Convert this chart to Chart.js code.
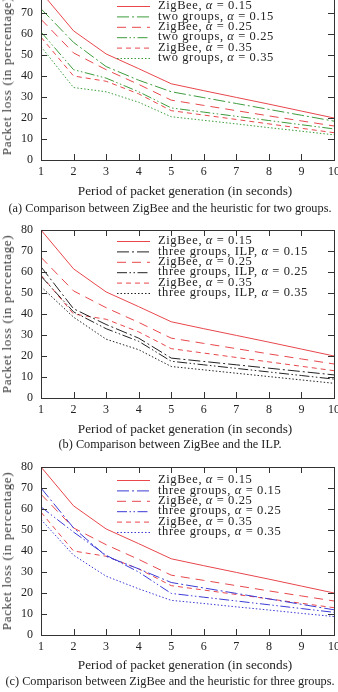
<!DOCTYPE html>
<html>
<head>
    <meta charset="utf-8">
    <title>Packet loss vs period of packet generation</title>
    <script src="https://cdn.jsdelivr.net/npm/chart.js"></script>
    <style>
        html, body { margin: 0; padding: 0; background: #fff; }
        body { width: 338px; height: 692px; position: relative; overflow: hidden;
               font-family: "Liberation Serif", "Times New Roman", serif; color: #222; }
        .box { position: absolute; left: 0; width: 338px; }
        .cap { position: absolute; left: 170px; transform: translate(-50%, -50%);
               font-size: 12.3px; white-space: nowrap; }
        .xt { position: absolute; left: 185px; transform: translate(-50%, -50%);
              font-size: 13.3px; white-space: nowrap; }
        .yt { position: absolute; left: 7px; transform: translate(-50%, -50%) rotate(-90deg);
              font-size: 13px; letter-spacing: 0.7px; white-space: nowrap; color: #333; }
    </style>
</head>
<body>
    <div class="box" style="top:-8px;height:208px"><canvas id="chartA"></canvas></div>
    <div class="yt" style="top:76px">Packet loss (in percentage)</div>
    <div class="xt" style="top:191px">Period of packet generation (in seconds)</div>
    <div class="cap" style="top:208px">(a) Comparison between ZigBee and the heuristic for two groups.</div>

    <div class="box" style="top:220px;height:218px"><canvas id="chartB"></canvas></div>
    <div class="yt" style="top:314px">Packet loss (in percentage)</div>
    <div class="xt" style="top:429px">Period of packet generation (in seconds)</div>
    <div class="cap" style="top:444px">(b) Comparison between ZigBee and the ILP.</div>

    <div class="box" style="top:457px;height:218px"><canvas id="chartC"></canvas></div>
    <div class="yt" style="top:551px">Packet loss (in percentage)</div>
    <div class="xt" style="top:665px">Period of packet generation (in seconds)</div>
    <div class="cap" style="top:681px">(c) Comparison between ZigBee and the heuristic for three groups.</div>

    <script>
        // period of packet generation (seconds)
        var periods = [1, 2, 3, 4, 5, 6, 7, 8, 9, 10];

        // packet loss (%)
        var zigbee15 = [80, 61.5, 50.5, 43.5, 36.3, 33, 29.8, 26.6, 23.3, 20];
        var zigbee25 = [67, 51, 43, 36, 28.5, 26, 23.5, 21, 18.6, 16.2];
        var zigbee35 = [58.5, 40, 37.5, 31.5, 23.5, 21.4, 19.3, 17.2, 15.1, 13];

        var twoGroups15 = [72, 56, 44.5, 38, 32.5, 29.7, 26.9, 24.1, 21.3, 18.5];
        var twoGroups25 = [61, 43, 39, 32.5, 24.8, 22.8, 20.8, 18.8, 16.8, 14.8];
        var twoGroups35 = [54, 34.5, 32.5, 27.5, 20.6, 18.9, 17.2, 15.4, 13.7, 12];

        var ilp15 = [62.5, 42.5, 35, 28.5, 19, 17.4, 15.8, 14.2, 12.6, 11];
        var ilp25 = [58, 41, 33, 27, 17.5, 15.8, 14.1, 12.4, 10.7, 9];
        var ilp35 = [53, 38.5, 28, 23, 15, 13.4, 11.8, 10.2, 8.6, 7];

        var threeGroups15 = [70, 51, 37.5, 31.5, 25, 22.4, 19.8, 17.2, 14.6, 12];
        var threeGroups25 = [61, 49, 38, 30, 19.8, 18, 16.2, 14.4, 12.6, 10.8];
        var threeGroups35 = [55, 38, 28, 22, 16.5, 15, 13.4, 11.9, 10.3, 8.8];

        var RED = '#e8474c', GREEN = '#3c9c3c', BLACK = '#222', BLUE = '#3b3bd6';
        var SOLID = [], DASHDOT = [12, 3, 2, 3], LONGDASH = [9, 6],
            DASHDOTDOT = [10, 2.5, 1.5, 2.5, 1.5, 2.5], SHORTDASH = [5, 4], DOTTED = [1.5, 2];
        var SERIF = '"Liberation Serif", "Times New Roman", serif';

        function points(values) {
            return values.map(function(v, i) { return { x: periods[i], y: v }; });
        }

        function series(label, values, color, dash) {
            return {
                label: label, data: points(values),
                borderColor: color, borderWidth: 1, borderDash: dash,
                pointRadius: 0, tension: 0, fill: false
            };
        }

        // box around the plot with inward ticks on all four sides
        var framePlugin = {
            id: 'frame',
            afterDatasetsDraw: function(chart) {
                var a = chart.chartArea, ctx = chart.ctx;
                var xs = chart.scales.x, ys = chart.scales.y, len = 6;
                ctx.save();
                ctx.strokeStyle = '#333';
                ctx.lineWidth = 1;
                ctx.setLineDash([]);
                ctx.beginPath();
                xs.ticks.forEach(function(t, i) {
                    var px = Math.round(xs.getPixelForTick(i)) + 0.5;
                    ctx.moveTo(px, a.bottom); ctx.lineTo(px, a.bottom - len);
                    ctx.moveTo(px, a.top); ctx.lineTo(px, a.top + len);
                });
                ys.ticks.forEach(function(t, i) {
                    var py = Math.round(ys.getPixelForTick(i)) + 0.5;
                    ctx.moveTo(a.left, py); ctx.lineTo(a.left + len, py);
                    ctx.moveTo(a.right, py); ctx.lineTo(a.right - len, py);
                });
                ctx.stroke();
                ctx.strokeRect(Math.round(a.left) + 0.5, Math.round(a.top) + 0.5,
                    Math.round(a.right - a.left), Math.round(a.bottom - a.top));
                ctx.restore();
            }
        };

        // legend drawn inside the plot: line sample, then label with italic alpha
        var legendPlugin = {
            id: 'insideLegend',
            afterDraw: function(chart) {
                var o = chart.options.plugins.insideLegend;
                var a = chart.chartArea, ctx = chart.ctx;
                ctx.save();
                ctx.textBaseline = 'middle';
                ctx.letterSpacing = o.spacing;
                chart.data.datasets.forEach(function(ds, i) {
                    var y = a.top + o.top + i * o.rowGap;
                    var x0 = a.left + o.left;
                    ctx.strokeStyle = ds.borderColor;
                    ctx.lineWidth = ds.borderWidth;
                    ctx.setLineDash(ds.borderDash);
                    ctx.beginPath();
                    ctx.moveTo(x0, y + 0.5); ctx.lineTo(x0 + o.sample, y + 0.5);
                    ctx.stroke();
                    ctx.setLineDash([]);
                    ctx.fillStyle = '#222';
                    var x = x0 + o.sample + o.gap;
                    var parts = ds.label.split('α');
                    parts.forEach(function(p, k) {
                        ctx.font = o.fontSize + 'px ' + SERIF;
                        ctx.fillText(p, x, y);
                        x += ctx.measureText(p).width;
                        if (k < parts.length - 1) {
                            ctx.font = 'italic ' + o.fontSize + 'px ' + SERIF;
                            ctx.fillText('α', x, y);
                            x += ctx.measureText('α').width;
                        }
                    });
                });
                ctx.restore();
            }
        };

        function makeChart(id, datasets, padTop, legendTop) {
            var font = { family: SERIF, size: 12 };
            new Chart(document.getElementById(id), {
                type: 'line',
                data: { datasets: datasets },
                plugins: [framePlugin, legendPlugin],
                options: {
                    responsive: true,
                    maintainAspectRatio: false,
                    animation: false,
                    layout: { padding: { top: padTop, left: 0, right: 4, bottom: 0 } },
                    plugins: {
                        legend: { display: false },
                        tooltip: { enabled: false },
                        insideLegend: { top: legendTop, rowGap: 10.4, left: 76, sample: 33, gap: 8,
                                        fontSize: 12.5, spacing: '0.6px' }
                    },
                    scales: {
                        x: {
                            type: 'linear', min: 1, max: 10,
                            grid: { display: false, drawTicks: false },
                            border: { display: false },
                            ticks: { stepSize: 1, padding: 5, font: font, color: '#222' },
                            title: { display: false },
                            afterFit: function(s) { s.height = 40; s.paddingLeft = 0; s.paddingRight = 0; }
                        },
                        y: {
                            min: 0, max: 80,
                            grid: { display: false, drawTicks: false },
                            border: { display: false },
                            ticks: { stepSize: 10, padding: 8, font: font, color: '#222' },
                            title: { display: false },
                            afterFit: function(s) { s.width = 41; s.paddingTop = 0; s.paddingBottom = 0; }
                        }
                    }
                }
            });
        }

        makeChart('chartA', [
            series('ZigBee, α = 0.15', zigbee15, RED, SOLID),
            series('two groups, α = 0.15', twoGroups15, GREEN, DASHDOT),
            series('ZigBee, α = 0.25', zigbee25, RED, LONGDASH),
            series('two groups, α = 0.25', twoGroups25, GREEN, DASHDOTDOT),
            series('ZigBee, α = 0.35', zigbee35, RED, SHORTDASH),
            series('two groups, α = 0.35', twoGroups35, GREEN, DOTTED)
        ], 0, 14);

        makeChart('chartB', [
            series('ZigBee, α = 0.15', zigbee15, RED, SOLID),
            series('three groups, ILP, α = 0.15', ilp15, BLACK, DASHDOT),
            series('ZigBee, α = 0.25', zigbee25, RED, LONGDASH),
            series('three groups, ILP, α = 0.25', ilp25, BLACK, DASHDOTDOT),
            series('ZigBee, α = 0.35', zigbee35, RED, SHORTDASH),
            series('three groups, ILP, α = 0.35', ilp35, BLACK, DOTTED)
        ], 10, 11);

        makeChart('chartC', [
            series('ZigBee, α = 0.15', zigbee15, RED, SOLID),
            series('three groups, α = 0.15', threeGroups15, BLUE, DASHDOT),
            series('ZigBee, α = 0.25', zigbee25, RED, LONGDASH),
            series('three groups, α = 0.25', threeGroups25, BLUE, DASHDOTDOT),
            series('ZigBee, α = 0.35', zigbee35, RED, SHORTDASH),
            series('three groups, α = 0.35', threeGroups35, BLUE, DOTTED)
        ], 10, 13);
    </script>
</body>
</html>
